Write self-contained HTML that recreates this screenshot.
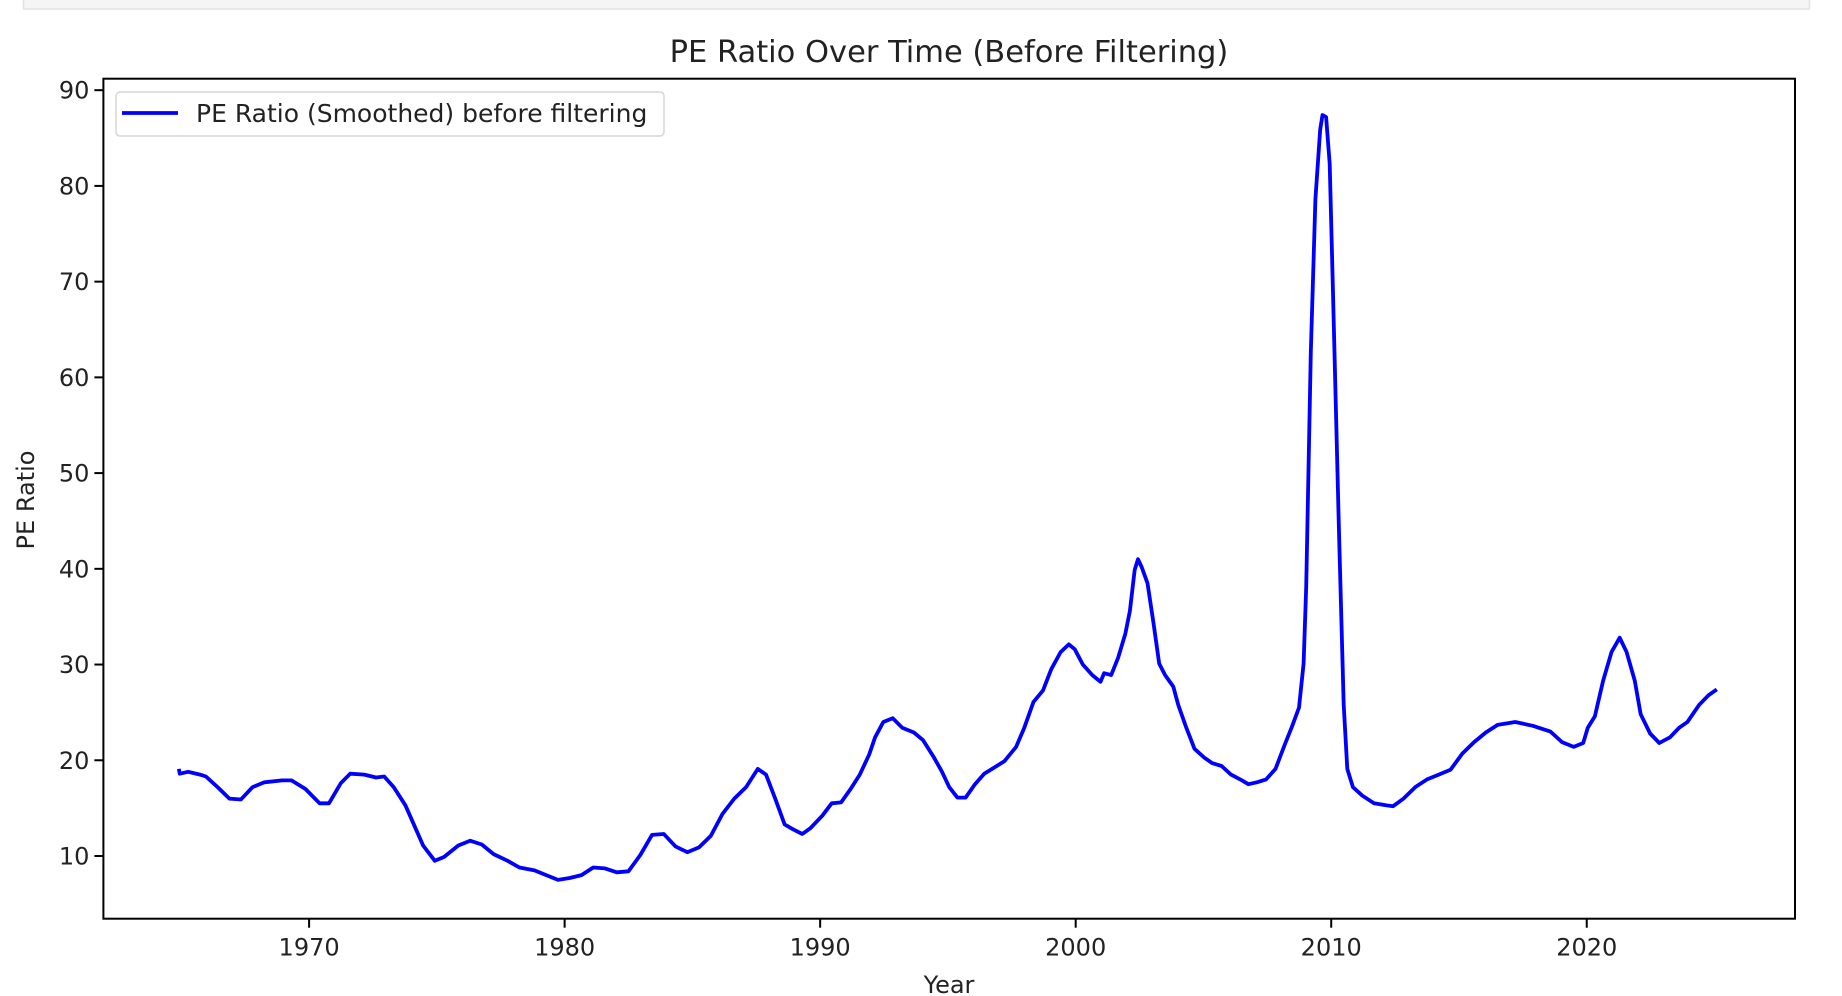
<!DOCTYPE html>
<html><head><meta charset="utf-8"><style>
html,body{margin:0;padding:0;background:#fff;width:1842px;height:996px;overflow:hidden}
svg{display:block;font-family:"DejaVu Sans","Liberation Sans",sans-serif}
</style></head><body>
<svg id="chart" width="1842" height="996" viewBox="0 0 1842 996">
<rect x="23.5" y="-2" width="1786" height="11" fill="#f5f5f5" stroke="#e2e2e2" stroke-width="1.5"/>
<text x="949" y="62" text-anchor="middle" font-size="30.5" fill="#222">PE Ratio Over Time (Before Filtering)</text>
<g id="axes"></g>
<text x="949" y="993" text-anchor="middle" font-size="24" fill="#222">Year</text>
<text transform="translate(34,500) rotate(-90)" text-anchor="middle" font-size="24" fill="#222">PE Ratio</text>
</svg>
<script>
const years=[1964.90,1964.94,1965.27,1965.73,1965.96,1966.42,1966.88,1967.33,1967.79,1968.25,1968.94,1969.31,1969.86,1970.41,1970.78,1971.24,1971.61,1972.16,1972.62,1972.94,1973.31,1973.77,1974.00,1974.46,1974.92,1975.28,1975.84,1976.30,1976.76,1977.22,1977.77,1978.23,1978.82,1979.28,1979.74,1980.20,1980.66,1981.12,1981.58,1982.04,1982.50,1982.96,1983.42,1983.88,1984.34,1984.80,1985.26,1985.72,1986.18,1986.64,1987.10,1987.56,1987.88,1988.24,1988.61,1988.93,1989.30,1989.62,1990.08,1990.45,1990.82,1991.19,1991.55,1991.92,1992.15,1992.47,1992.84,1993.21,1993.67,1994.03,1994.45,1994.77,1995.05,1995.37,1995.69,1996.06,1996.42,1996.79,1997.21,1997.67,1997.99,1998.35,1998.72,1999.04,1999.41,1999.73,1999.96,2000.28,2000.65,2000.97,2001.11,2001.39,2001.66,2001.94,2002.12,2002.31,2002.44,2002.58,2002.81,2003.04,2003.27,2003.50,2003.82,2004.01,2004.33,2004.65,2005.02,2005.34,2005.71,2006.08,2006.44,2006.76,2007.09,2007.45,2007.82,2008.19,2008.46,2008.74,2008.92,2009.02,2009.20,2009.38,2009.57,2009.66,2009.80,2009.94,2010.07,2010.30,2010.49,2010.63,2010.85,2011.22,2011.68,2012.14,2012.42,2012.83,2013.29,2013.75,2014.21,2014.67,2015.13,2015.59,2016.05,2016.51,2017.20,2017.89,2018.58,2019.03,2019.49,2019.86,2020.04,2020.32,2020.64,2020.97,2021.29,2021.56,2021.88,2022.11,2022.48,2022.84,2023.26,2023.62,2023.94,2024.40,2024.77,2025.09];
const peValues=[19.1,18.6,18.8,18.5,18.3,17.2,16.0,15.9,17.2,17.7,17.9,17.9,17.0,15.5,15.5,17.6,18.6,18.5,18.2,18.3,17.2,15.3,13.9,11.1,9.5,9.9,11.1,11.6,11.2,10.2,9.5,8.8,8.5,8.0,7.5,7.7,8.0,8.8,8.7,8.3,8.4,10.1,12.2,12.3,11.0,10.4,10.9,12.1,14.4,16.0,17.2,19.1,18.5,16.0,13.3,12.8,12.3,12.9,14.2,15.5,15.6,17.0,18.5,20.6,22.4,24.0,24.4,23.4,22.9,22.1,20.3,18.8,17.2,16.1,16.1,17.5,18.6,19.2,19.9,21.4,23.4,26.1,27.3,29.5,31.3,32.1,31.6,30.0,28.9,28.2,29.1,28.9,30.7,33.2,35.6,39.9,41.0,40.2,38.5,34.4,30.1,28.9,27.7,25.8,23.4,21.2,20.3,19.7,19.4,18.5,18.0,17.5,17.7,18.0,19.1,21.7,23.5,25.5,30.1,38.1,62.6,78.6,85.9,87.4,87.2,82.3,68.8,44.2,25.8,19.1,17.2,16.3,15.5,15.3,15.2,16.0,17.2,18.0,18.5,19.0,20.7,21.9,22.9,23.7,24.0,23.6,23.0,21.9,21.4,21.8,23.4,24.6,28.3,31.3,32.8,31.3,28.3,24.8,22.8,21.8,22.4,23.4,24.0,25.8,26.8,27.4];
const xTickLabels=[1970,1980,1990,2000,2010,2020];
const yTickLabels=[10,20,30,40,50,60,70,80,90];
const seriesLabel="PE Ratio (Smoothed) before filtering";

const L=103.4,R=1795,T=78.7,B=918.7;
const xMin=1961.95,xMax=2028.15,yMin=3.45,yMax=91.2;
function xs(v){return L+(v-xMin)/(xMax-xMin)*(R-L);}
function ys(v){return B-(v-yMin)/(yMax-yMin)*(B-T);}
const NS="http://www.w3.org/2000/svg";
const g=document.getElementById('axes');
function mk(tag,attrs){const e=document.createElementNS(NS,tag);for(const k in attrs)e.setAttribute(k,attrs[k]);return e;}

const frame=mk('rect',{x:L,y:T,width:R-L,height:B-T,fill:'#fff',stroke:'#000','stroke-width':2});


g.appendChild(frame);

xTickLabels.forEach(t=>{
  const x=xs(t);
  const ln=mk('line',{x1:x,x2:x,y1:B,y2:B+9,stroke:'#000','stroke-width':2});
  
  
  g.appendChild(ln);
  const tx=mk('text',{x:x,y:B+37,'text-anchor':'middle','font-size':24,fill:'#222'});
  
  
  tx.textContent=t;g.appendChild(tx);
});
yTickLabels.forEach(t=>{
  const y=ys(t);
  const ln=mk('line',{x1:L-9,x2:L,y1:y,y2:y,stroke:'#000','stroke-width':2});
  
  
  g.appendChild(ln);
  const tx=mk('text',{x:L-14,y:y+8.5,'text-anchor':'end','font-size':24,fill:'#222'});
  
  
  tx.textContent=t;g.appendChild(tx);
});

let d='';
years.forEach((yr,i)=>{d+=(i?'L':'M')+xs(yr).toFixed(1)+','+ys(peValues[i]).toFixed(1);});
const path=mk('path',{d:d,fill:'none',stroke:'#0000ff','stroke-width':3.8,'stroke-linejoin':'round'});


g.appendChild(path);

const leg=mk('g',{});


const box=mk('rect',{x:116,y:92,width:548,height:44,rx:4,fill:'#fff','fill-opacity':0.8,stroke:'#d6d6d6','stroke-width':1.5});


leg.appendChild(box);
const ll=mk('line',{x1:122,x2:178,y1:113,y2:113,stroke:'#0000ff','stroke-width':3.8});


leg.appendChild(ll);
const lt=mk('text',{x:196,y:122,'font-size':25,fill:'#222'});


lt.textContent=seriesLabel;leg.appendChild(lt);
g.appendChild(leg);
</script>
</body></html>
